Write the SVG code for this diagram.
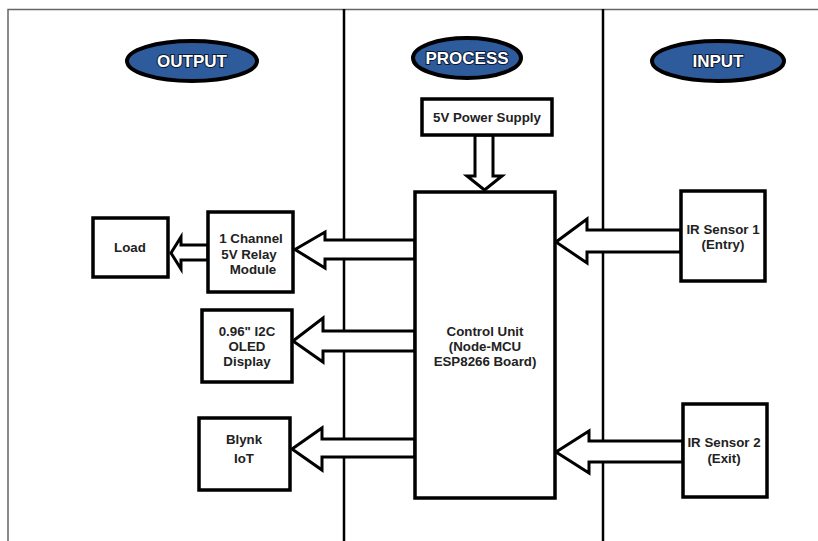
<svg xmlns="http://www.w3.org/2000/svg" width="818" height="541" viewBox="0 0 818 541">
<style>
.box{fill:#fff;stroke:#000;stroke-width:3.5}
.arr{fill:#fff;stroke:#000;stroke-width:3;stroke-linejoin:miter}
.div{stroke:#000;stroke-width:2.5}
.frame{stroke:#666;stroke-width:1.5;fill:none}
.ell{fill:#2e5b9c;stroke:#000;stroke-width:4}
.hd{font-family:"Liberation Sans Narrow","Liberation Sans",Arial,sans-serif;font-weight:bold;font-size:17px;fill:#fff;stroke:#0a1a33;stroke-width:2;paint-order:stroke;text-anchor:middle}
.t{font-family:"Liberation Sans",Arial,sans-serif;font-weight:bold;font-size:13.3px;fill:#222;text-anchor:middle}
</style>
<rect width="818" height="541" fill="#fff"/>
<g id="frame">
<path class="frame" d="M8 541 V9.5 H818"/>
<line class="div" x1="344" y1="9" x2="344" y2="541"/>
<line class="div" x1="603" y1="9" x2="603" y2="541"/>
</g>
<g id="hdr-output"><ellipse class="ell" cx="192" cy="61" rx="65" ry="20"/><text class="hd" x="192" y="67">OUTPUT</text></g>
<g id="hdr-process"><ellipse class="ell" cx="467" cy="58" rx="54" ry="20"/><text class="hd" x="467" y="64">PROCESS</text></g>
<g id="hdr-input"><ellipse class="ell" cx="718" cy="61" rx="66" ry="20"/><text class="hd" x="718" y="67">INPUT</text></g>
<g id="connectors">
<polygon class="arr" points="475,135 493,135 493,176 502,176 484.5,190 467,176 475,176"/>
<polygon class="arr" points="415,240 325,240 325,232 295,249.5 325,268 325,259 415,259"/>
<polygon class="arr" points="208,245 181,245 181,237 171,253 181,269 181,260 208,260"/>
<polygon class="arr" points="415,331 323,331 323,318 293,341 323,362 323,351 415,351"/>
<polygon class="arr" points="415,439 322,439 322,428 292,449 322,470 322,457 415,457"/>
<polygon class="arr" points="681,230 587,230 587,219 556,242 587,263 587,252 681,252"/>
<polygon class="arr" points="683,441 589,441 589,431 556,452 589,473 589,462 683,462"/>
</g>
<g id="power"><rect class="box" x="422" y="99" width="130" height="36"/><text class="t" x="487" y="122">5V Power Supply</text></g>
<g id="control"><rect class="box" x="415" y="192" width="140" height="306"/>
<text class="t" x="485" y="336">Control Unit</text><text class="t" x="485" y="351">(Node-MCU</text><text class="t" x="485" y="366">ESP8266 Board)</text></g>
<g id="relay"><rect class="box" x="208" y="212" width="85" height="80"/>
<text class="t" x="251" y="243">1 Channel</text><text class="t" x="249" y="259">5V Relay</text><text class="t" x="253" y="274">Module</text></g>
<g id="load"><rect class="box" x="93" y="218" width="75" height="59"/><text class="t" x="130" y="252">Load</text></g>
<g id="oled"><rect class="box" x="202" y="310" width="90" height="72"/>
<text class="t" x="247" y="336">0.96" I2C</text><text class="t" x="247" y="351">OLED</text><text class="t" x="247" y="366">Display</text></g>
<g id="blynk"><rect class="box" x="199" y="418" width="91" height="72"/>
<text class="t" x="244" y="444">Blynk</text><text class="t" x="244" y="463">IoT</text></g>
<g id="ir1"><rect class="box" x="681" y="191" width="84" height="90"/>
<text class="t" x="723" y="234">IR Sensor 1</text><text class="t" x="723" y="249">(Entry)</text></g>
<g id="ir2"><rect class="box" x="683" y="404" width="84" height="93"/>
<text class="t" x="724" y="447">IR Sensor 2</text><text class="t" x="724" y="463">(Exit)</text></g>
</svg>
